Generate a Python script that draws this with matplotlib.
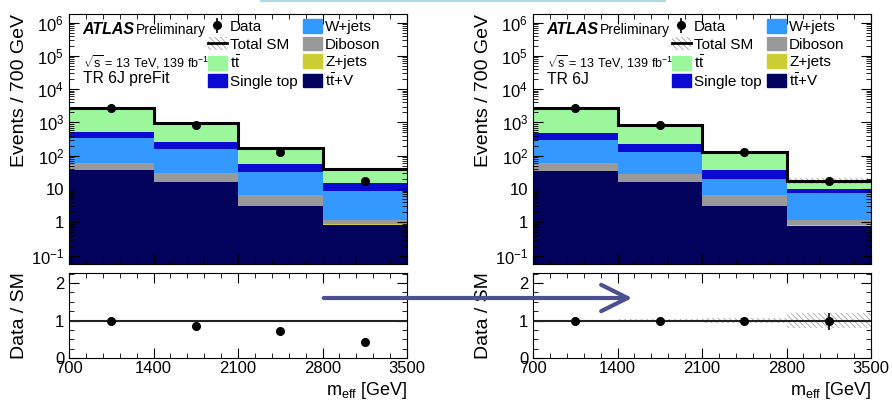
"""TR 6J control region: m_eff stack before and after the fit."""

import matplotlib

matplotlib.use("Agg")
import matplotlib.pyplot as plt
import numpy as np
from matplotlib.lines import Line2D
from matplotlib.patches import FancyArrowPatch, Patch
from matplotlib.ticker import FixedLocator, FuncFormatter, MultipleLocator, LogLocator, NullFormatter

plt.rcParams["font.family"] = ["Liberation Sans", "DejaVu Sans"]
plt.rcParams["mathtext.fontset"] = "custom"
plt.rcParams["mathtext.rm"] = "Liberation Sans"
plt.rcParams["mathtext.it"] = "Liberation Sans:italic"
plt.rcParams["hatch.linewidth"] = 0.6

# ---- data ----
edges = [700, 1400, 2100, 2800, 3500]
data = [2750, 830, 126, 17]

# pre-fit stack components, bottom to top
pre_ttv = [37, 16.5, 3.0, 0.82]
pre_zjets = [0.4, 0.2, 0.15, 0.05]
pre_diboson = [24.6, 12.8, 3.45, 0.30]
pre_wjets = [268, 125.5, 26.4, 7.5]
pre_singletop = [195, 97, 23, 6.8]
pre_ttbar = [2275, 728, 119, 24.5]
pre_unc = [0.015, 0.015, 0.015, 0.015]

# post-fit stack components
post_ttv = [35.5, 16.2, 3.0, 0.80]
post_zjets = [0.4, 0.2, 0.15, 0.05]
post_diboson = [23.1, 11.6, 3.45, 0.32]
post_wjets = [236, 98, 12.9, 6.63]
post_singletop = [195, 93, 18.5, 2.0]
post_ttbar = [2260, 611, 88, 7.6]
post_unc = [0.02, 0.03, 0.06, 0.2]

labels = ["t$\\bar{\\rm t}$+V", "Z+jets", "Diboson", "W+jets", "Single top", "t$\\bar{\\rm t}$"]
colors = ["#03035e", "#cccc33", "#999999", "#3399ff", "#0a0ad2", "#9cf79c"]

W, H = 892, 403
HATCH = "\\\\\\\\\\\\"


def rect(x0, y0, x1, y1):
    return [x0 / W, 1 - y1 / H, (x1 - x0) / W, (y1 - y0) / H]


def log_fmt(v, _pos):
    if v <= 0:
        return ""
    n = int(round(np.log10(v)))
    if n == 0:
        return "1"
    if n == 1:
        return "10"
    return f"$10^{{{n}}}$"


def style_axes(ax):
    ax.tick_params(which="both", direction="in", top=True, right=True, labelsize=12)
    ax.tick_params(which="major", length=7)
    ax.tick_params(which="minor", length=3.5)


def draw_panel(fig, x0, comps, unc, region):
    ax = fig.add_axes(rect(x0, 14, x0 + 338, 264))
    rax = fig.add_axes(rect(x0, 273, x0 + 338, 358))

    comps = [np.asarray(c, dtype=float) for c in comps]
    bottom = np.zeros(len(data))
    for vals, col in zip(comps, colors):
        ax.stairs(bottom + vals, edges, baseline=bottom.copy(), fill=True, color=col, lw=0)
        bottom = bottom + vals
    total = bottom
    unc = np.asarray(unc)

    ax.stairs(total * (1 + unc), edges, baseline=total * (1 - unc), fill=True,
              facecolor="none", edgecolor="#a0a0a0", hatch=HATCH, lw=0)
    ax.stairs(total, edges, baseline=None, color="black", lw=2.2)

    centers = 0.5 * (np.asarray(edges[:-1]) + np.asarray(edges[1:]))
    d = np.asarray(data, dtype=float)
    derr = np.sqrt(d)
    h_data = ax.errorbar(centers, d, yerr=derr, fmt="o", color="black", ms=5.5, lw=1.2, capsize=0)

    ax.set_yscale("log")
    ax.set_xlim(edges[0], edges[-1])
    ax.set_ylim(0.056, 1.8e6)
    ax.yaxis.set_major_locator(LogLocator(base=10, numticks=20))
    ax.yaxis.set_minor_locator(LogLocator(base=10, subs=np.arange(2, 10), numticks=20))
    ax.yaxis.set_major_formatter(FuncFormatter(log_fmt))
    ax.yaxis.set_minor_formatter(NullFormatter())
    ax.xaxis.set_major_locator(MultipleLocator(700))
    ax.xaxis.set_minor_locator(MultipleLocator(140))
    ax.set_xticklabels([])
    style_axes(ax)
    ax.set_ylabel("Events / 700 GeV", fontsize=14, loc="top")

    ax.text(0.04, 0.936, "ATLAS", transform=ax.transAxes, fontsize=11.5,
            fontweight="bold", fontstyle="italic", va="center")
    ax.text(0.198, 0.936, "Preliminary", transform=ax.transAxes, fontsize=10, va="center")
    ax.text(0.04, 0.808, "$\\sqrt{\\rm s}$ = 13 TeV, 139 fb$^{-1}$", transform=ax.transAxes,
            fontsize=9, va="center")
    ax.text(0.04, 0.74, region, transform=ax.transAxes, fontsize=11.3, va="center")

    h_tot = (Patch(facecolor="white", edgecolor="#a0a0a0", hatch=HATCH, lw=0),
             Line2D([], [], color="black", lw=2))
    patches = [Patch(color=c) for c in colors]
    handles = [h_data, h_tot, patches[5], patches[4], patches[3], patches[2], patches[1], patches[0]]
    names = ["Data", "Total SM", labels[5], labels[4], labels[3], labels[2], labels[1], labels[0]]
    ax.legend(handles, names, ncol=2, loc="upper left", bbox_to_anchor=(0.411, 0.978),
              frameon=False, fontsize=11, handlelength=1.24, handleheight=0.98,
              handletextpad=0.18, labelspacing=0.16, columnspacing=0.4,
              borderpad=0, borderaxespad=0)

    # ratio panel
    ratio = d / total
    rerr = derr / total
    rax.stairs(1 + unc, edges, baseline=1 - unc, fill=True, facecolor="none",
               edgecolor="#aaaaaa", hatch=HATCH, lw=0)
    rax.axhline(1, color="#222222", lw=1.5)
    rax.errorbar(centers, ratio, yerr=rerr, fmt="o", color="black", ms=5.5, lw=1.2, capsize=0)
    rax.set_xlim(edges[0], edges[-1])
    rax.set_ylim(0, 2.27)
    rax.yaxis.set_major_locator(FixedLocator([0, 1, 2]))
    rax.yaxis.set_minor_locator(MultipleLocator(0.25))
    rax.xaxis.set_major_locator(FixedLocator(edges))
    rax.xaxis.set_minor_locator(MultipleLocator(140))
    style_axes(rax)
    rax.tick_params(axis="x", pad=2)
    rax.set_ylabel("Data / SM", fontsize=14)
    rax.set_xlabel("m$_{\\rm eff}$ [GeV]", fontsize=13, loc="right", labelpad=3)
    ax.yaxis.set_label_coords(-0.12, 1.0)
    rax.yaxis.set_label_coords(-0.12, 0.5)
    return ax, rax


fig = plt.figure(figsize=(W / 100, H / 100), dpi=100)

draw_panel(fig, 69, [pre_ttv, pre_zjets, pre_diboson, pre_wjets, pre_singletop, pre_ttbar],
           pre_unc, "TR 6J preFit")
draw_panel(fig, 533, [post_ttv, post_zjets, post_diboson, post_wjets, post_singletop, post_ttbar],
           post_unc, "TR 6J")

# slide decorations: thin rule at the top and the pre -> post arrow
fig.add_artist(Line2D([261 / W, 665 / W], [1 - 1 / H, 1 - 1 / H], transform=fig.transFigure,
                      color="#b0dde4", lw=1.5))
arrow = FancyArrowPatch((321 / W, 1 - 298 / H), (635 / W, 1 - 298 / H), transform=fig.transFigure,
                        arrowstyle="->,head_length=1.9,head_width=0.95", mutation_scale=10,
                        color="#4b5190", lw=3, capstyle="round", joinstyle="round")
fig.add_artist(arrow)

fig.savefig("out.png", dpi=100)
